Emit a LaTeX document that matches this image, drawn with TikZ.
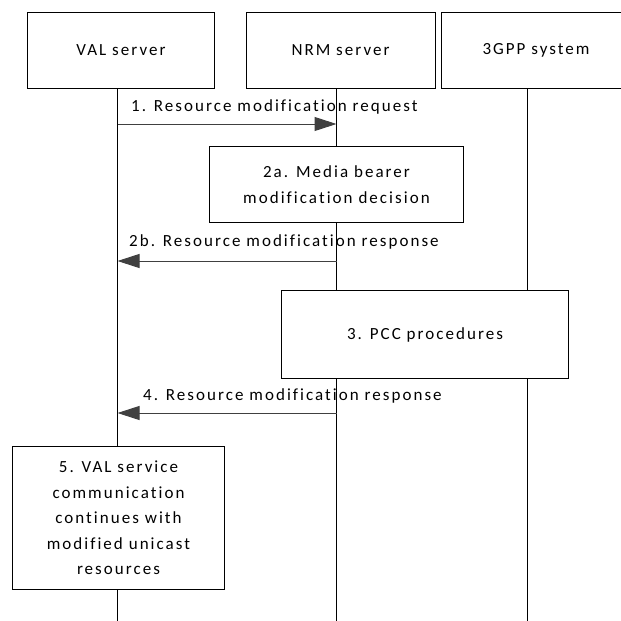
\documentclass[tikz,border=0pt]{standalone}
\usepackage{fontspec}
\setmainfont{Carlito}[LetterSpace=12,Ligatures={NoCommon,NoRare,NoContextual}]
\usetikzlibrary{arrows.meta}
\definecolor{arrowgray}{HTML}{404040}
\begin{document}
\begin{tikzpicture}[x=1pt,y=-1pt,
  every node/.style={font=\fontsize{17}{25.5}\selectfont},
  actor/.style={draw=black,line width=1pt,fill=white,minimum height=76pt,inner sep=0pt,anchor=north west},
  procbox/.style={draw=black,line width=1pt,fill=white,inner sep=0pt,align=center,anchor=north west},
  life/.style={draw=black,line width=1pt},
  msg/.style={draw=arrowgray,line width=1pt,-{Triangle[length=22pt,width=14pt]}},
  lbl/.style={anchor=base west,inner sep=0pt}]
\useasboundingbox (0,0) rectangle (621,621);
\clip (0,0) rectangle (621,621);
% lifeline coordinates
\coordinate (valtop) at (117.5,88);
\coordinate (valbot) at (117.5,621);
\coordinate (nrmtop) at (336.5,88);
\coordinate (nrmbot) at (336.5,621);
\coordinate (gpptop) at (527,88);
\coordinate (gppbot) at (527,621);
\draw[life] (valtop) -- (valbot);
\draw[life] (nrmtop) -- (nrmbot);
\draw[life] (gpptop) -- (gppbot);
% actors
\node[actor,minimum width=187pt] (val) at (27,12) {};
\node at (val.center) {VAL server};
\node[actor,minimum width=189pt] (nrm) at (245.5,12) {};
\node at (nrm.center) {NRM server};
\node[actor,minimum width=189pt] (gpp) at (441,12) {};
\node at (gpp.center) {3GPP system};
% message 1
\coordinate (m1s) at (117.5,124);
\coordinate (m1e) at (336.5,124);
\draw[msg] (m1s) -- (m1e);
\node[lbl] (l1) at (131,111) {1. Resource modification request};
% box 2a
\node[procbox,minimum width=254pt,minimum height=76pt] (b2a) at (209,146) {};
\node[align=center] at (b2a.center) {2a. Media bearer\\modification decision};
% message 2b
\coordinate (m2s) at (336.5,261);
\coordinate (m2e) at (117.5,261);
\draw[msg] (m2s) -- (m2e);
\node[lbl] (l2) at (129,246) {2b. Resource modification response};
% box 3
\node[procbox,minimum width=287pt,minimum height=88pt] (b3) at (281,290) {};
\node at (b3.center) {3. PCC procedures};
% message 4
\coordinate (m4s) at (336.5,413);
\coordinate (m4e) at (117.5,413);
\draw[msg] (m4s) -- (m4e);
\node[lbl] (l4) at (143,400) {4. Resource modification response};
% box 5
\node[procbox,minimum width=212pt,minimum height=143pt] (b5) at (12,446) {};
\node[align=center] at (b5.center) {5. VAL service\\communication\\continues with\\modified unicast\\resources};
\end{tikzpicture}
\end{document}
